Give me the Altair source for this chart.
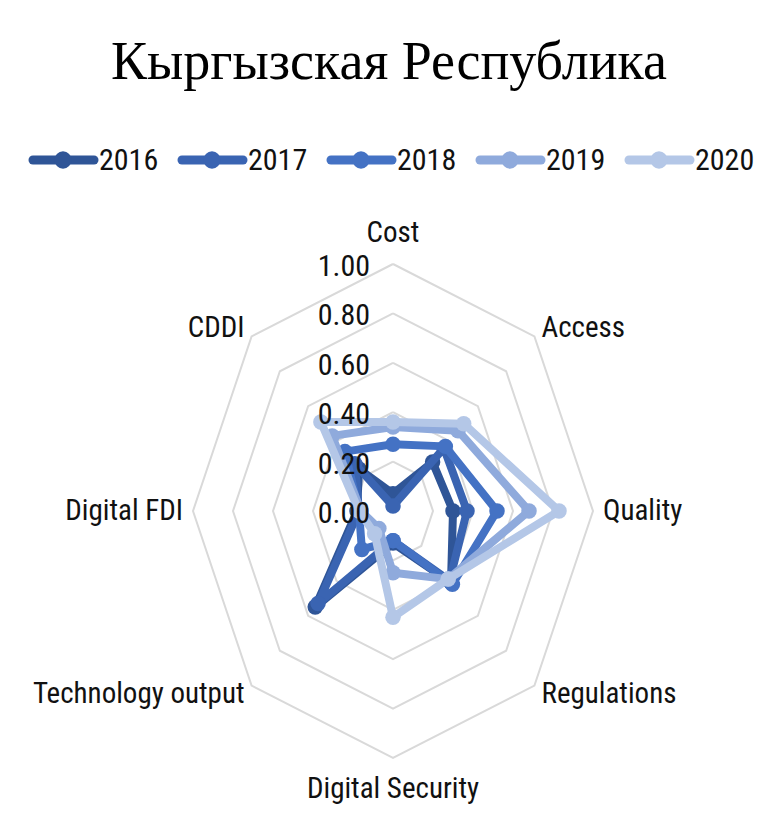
import altair as alt
import pandas as pd
import numpy as np

# ---------------- data ----------------
categories = ["Cost", "Access", "Quality", "Regulations", "Digital Security",
              "Technology output", "Digital FDI", "CDDI"]
years = ["2016", "2017", "2018", "2019", "2020"]
v2016 = [0.07, 0.28, 0.30, 0.41, 0.13, 0.55, 0.18, 0.24]
v2017 = [0.02, 0.36, 0.37, 0.40, 0.12, 0.53, 0.17, 0.27]
v2018 = [0.27, 0.37, 0.52, 0.42, 0.12, 0.22, 0.17, 0.34]
v2019 = [0.34, 0.46, 0.68, 0.39, 0.25, 0.10, 0.16, 0.43]
v2020 = [0.36, 0.50, 0.83, 0.39, 0.43, 0.13, 0.17, 0.51]
series_values = [v2016, v2017, v2018, v2019, v2020]
tick_values = [0.0, 0.2, 0.4, 0.6, 0.8, 1.0]
tick_labels = ["0.00", "0.20", "0.40", "0.60", "0.80", "1.00"]
title_text = "Кыргызская Республика"

# ---------------- styles ----------------
colors = ["#2F5597", "#3A64B2", "#4472C4", "#8FAADC", "#B4C7E7"]
grid_color = "#D9D9D9"
text_color = "#111111"
sans = "Liberation Sans Narrow, Roboto Condensed, Arial Narrow, DejaVu Sans Condensed, Liberation Sans, sans-serif"
serif = "Liberation Serif, Times New Roman, DejaVu Serif, serif"

W, H = 746, 800
xs = alt.Scale(domain=[-1.925, 1.805], nice=False, zero=False)
ys = alt.Scale(domain=[-(H - 503) / 247, 503 / 247], nice=False, zero=False)
X = alt.X("x:Q", scale=xs, axis=None)
Y = alt.Y("y:Q", scale=ys, axis=None)

n = len(categories)
ang = [2 * np.pi * i / n for i in range(n)]

# grid rings
ring_rows = []
for lvl in tick_values[1:]:
    for k in range(n + 1):
        a = ang[k % n]
        ring_rows.append({"ring": lvl, "ord": k, "x": lvl * np.sin(a), "y": lvl * np.cos(a)})
rings = alt.Chart(pd.DataFrame(ring_rows)).mark_line(
    color=grid_color, strokeWidth=2).encode(
    x=X, y=Y, detail="ring:N", order="ord:Q")

# tick labels along Cost axis
tick_df = pd.DataFrame({"label": tick_labels, "y": tick_values,
                        "x": [-0.115] * len(tick_values)})
ticks = alt.Chart(tick_df).mark_text(
    align="right", baseline="middle", dy=3, font=sans, fontSize=30,
    color=text_color).encode(x=X, y=Y, text="label:N")

# category labels
lab_rows = []
for c, a in zip(categories, ang):
    s, co = np.sin(a), np.cos(a)
    r = 1.125 if abs(s) < 0.1 else 1.05
    al = "center" if abs(s) < 0.1 else ("left" if s > 0 else "right")
    lab_rows.append({"label": c, "x": r * s, "y": r * co, "al": al})
lab_df = pd.DataFrame(lab_rows)
label_layers = []
for al in ["left", "center", "right"]:
    label_layers.append(
        alt.Chart(lab_df).transform_filter(alt.datum.al == al).mark_text(
            align=al, baseline="middle", font=sans, fontSize=29, color=text_color
        ).encode(x=X, y=Y, text="label:N"))

# series
series_layers = []
for yr, vals, col in zip(years, series_values, colors):
    rows = []
    for k in range(n + 1):
        a = ang[k % n]
        v = vals[k % n]
        rows.append({"year": yr, "cat": categories[k % n], "ord": k,
                     "x": v * np.sin(a), "y": v * np.cos(a), "pt": k < n})
    d = pd.DataFrame(rows)
    line = alt.Chart(d).mark_line(color=col, strokeWidth=8, strokeJoin="round").encode(
        x=X, y=Y, order="ord:Q")
    pts = alt.Chart(d).transform_filter(alt.datum.pt).mark_point(
        filled=True, size=240, color=col, opacity=1).encode(x=X, y=Y)
    series_layers += [line, pts]

# manual legend (pixel layout computed from item index)
leg_rows = []
for i, yr in enumerate(years):
    base = 25 + 149 * i
    leg_rows.append({"year": yr, "x0": base, "x1": base + 61, "xd": base + 30,
                     "xt": base + 66, "ly": 152})
leg_df = pd.DataFrame(leg_rows)
col_enc = alt.Color("year:N", scale=alt.Scale(domain=years, range=colors), legend=None)
leg_line = alt.Chart(leg_df).mark_rule(strokeWidth=9, strokeCap="round").encode(
    x=alt.X("x0:Q", scale=None), x2="x1:Q", y=alt.Y("ly:Q", scale=None), color=col_enc)
leg_dot = alt.Chart(leg_df).mark_point(filled=True, size=300, opacity=1).encode(
    x=alt.X("xd:Q", scale=None), y=alt.Y("ly:Q", scale=None), color=col_enc)
leg_txt = alt.Chart(leg_df).mark_text(
    align="left", baseline="middle", dy=1, font=sans, fontSize=30, color=text_color).encode(
    x=alt.X("xt:Q", scale=None), y=alt.Y("ly:Q", scale=None), text="year:N")

# title
title = alt.Chart(pd.DataFrame({"t": [title_text]})).mark_text(
    align="center", baseline="alphabetic", font=serif, fontSize=54, color="#000000").encode(
    x=alt.value(381), y=alt.value(71), text="t:N")

chart = alt.layer(
    rings, *label_layers, *series_layers, ticks, leg_line, leg_dot, leg_txt, title
).properties(
    width=W, height=H,
    autosize=alt.AutoSizeParams(type="none"),
    padding={"left": 0, "top": 0, "right": 0, "bottom": 0},
    background="white",
).configure_view(stroke=None)

chart.save("out.html", embed_options={"renderer": "svg", "actions": False})
